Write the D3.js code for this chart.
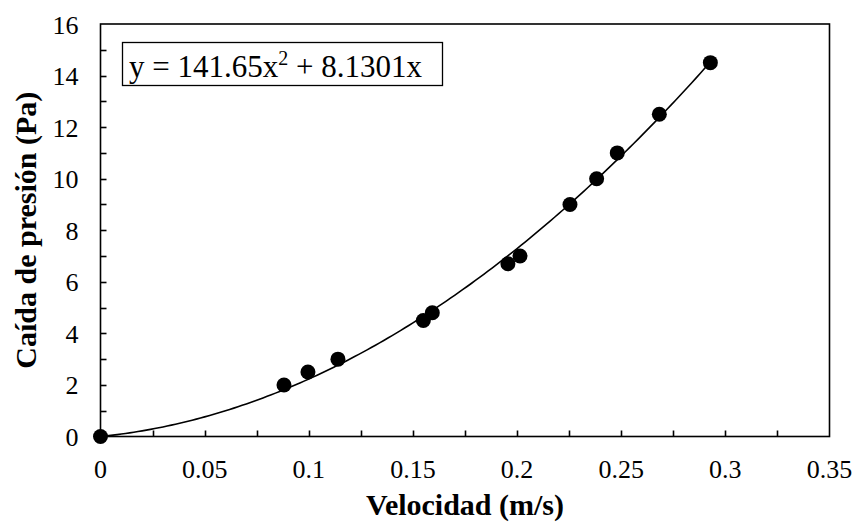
<!DOCTYPE html>
<html>
<head>
<meta charset="utf-8">
<script src="https://cdn.jsdelivr.net/npm/d3@7"></script>
</head>
<body style="margin:0">
<div id="chart"></div>
<script>
  // measured points (velocity m/s, pressure drop Pa)
  const velocity = [0, 0.0881, 0.0996, 0.114, 0.155, 0.1593, 0.1956, 0.2014, 0.2254, 0.2382, 0.2481, 0.2683, 0.2928];
  const pressure = [0, 2.0, 2.5, 3.0, 4.5, 4.8, 6.7, 7.0, 9.0, 10.0, 11.0, 12.5, 14.5];
  const xTicks = [0, 0.05, 0.1, 0.15, 0.2, 0.25, 0.3, 0.35];
  const yTicks = [0, 2, 4, 6, 8, 10, 12, 14, 16];
  // trendline coefficients (y = a x^2 + b x)
  const coefA = 141.65;
  const coefB = 8.1301;

  const width = 854;
  const height = 525;
  const margin = { top: 24, right: 24.5, bottom: 88.5, left: 100.5 };
  const serif = "\"Liberation Serif\", \"Times New Roman\", Tinos, serif";

  const svg = d3.select("#chart")
    .append("svg")
    .attr("width", width)
    .attr("height", height);

  const x = d3.scaleLinear().domain([0, 0.35]).range([margin.left, width - margin.right]);
  const y = d3.scaleLinear().domain([0, 16]).range([height - margin.bottom, margin.top]);

  // minor ticks inside the box
  const xMinor = d3.range(1, 14).map(i => i * 0.025);
  const yMinor = d3.range(1, 16);

  svg.append("g")
    .selectAll("line")
    .data(xMinor)
    .join("line")
    .attr("x1", d => Math.round(x(d)) + 0.5)
    .attr("x2", d => Math.round(x(d)) + 0.5)
    .attr("y1", y(0))
    .attr("y2", y(0) - 6)
    .attr("stroke", "#000")
    .attr("stroke-width", 1.6);

  svg.append("g")
    .selectAll("line")
    .data(yMinor)
    .join("line")
    .attr("x1", x(0))
    .attr("x2", x(0) + 6)
    .attr("y1", d => Math.round(y(d)) + 0.5)
    .attr("y2", d => Math.round(y(d)) + 0.5)
    .attr("stroke", "#000")
    .attr("stroke-width", 1.6);

  // box
  svg.append("rect")
    .attr("x", x(0))
    .attr("y", y(16))
    .attr("width", x(0.35) - x(0))
    .attr("height", y(0) - y(16))
    .attr("fill", "none")
    .attr("stroke", "#000")
    .attr("stroke-width", 1.6);

  // tick labels
  svg.append("g")
    .selectAll("text")
    .data(xTicks)
    .join("text")
    .attr("x", d => x(d))
    .attr("y", y(0) + 41)
    .attr("text-anchor", "middle")
    .attr("font-family", serif)
    .attr("font-size", 26)
    .text(d => d);

  svg.append("g")
    .selectAll("text")
    .data(yTicks)
    .join("text")
    .attr("x", x(0) - 22)
    .attr("y", d => y(d) + 9.5)
    .attr("text-anchor", "end")
    .attr("font-family", serif)
    .attr("font-size", 26)
    .text(d => d);

  // trendline
  const fitX = d3.range(0, d3.max(velocity) + 0.0001, 0.002);
  const line = d3.line()
    .x(d => x(d))
    .y(d => y(coefA * d * d + coefB * d));

  svg.append("path")
    .datum(fitX)
    .attr("d", line)
    .attr("fill", "none")
    .attr("stroke", "#000")
    .attr("stroke-width", 1.6);

  // points
  svg.append("g")
    .selectAll("circle")
    .data(velocity)
    .join("circle")
    .attr("cx", d => x(d))
    .attr("cy", (d, i) => y(pressure[i]))
    .attr("r", 7.5)
    .attr("fill", "#000");

  // equation label
  svg.append("rect")
    .attr("x", 122.5)
    .attr("y", 42.5)
    .attr("width", 320)
    .attr("height", 43)
    .attr("fill", "#fff")
    .attr("stroke", "#000")
    .attr("stroke-width", 1.3);

  const eq = svg.append("text")
    .attr("x", 129)
    .attr("y", 77)
    .attr("font-family", serif)
    .attr("font-size", 31);
  eq.append("tspan").text(`y = ${coefA}x`);
  eq.append("tspan").attr("dy", -12).attr("font-size", 20).text("2");
  eq.append("tspan").attr("dy", 12).text(` + ${coefB}x`);

  // axis titles
  svg.append("text")
    .attr("x", (x(0) + x(0.35)) / 2)
    .attr("y", 515)
    .attr("text-anchor", "middle")
    .attr("font-family", serif)
    .attr("font-size", 30)
    .attr("font-weight", "bold")
    .text("Velocidad (m/s)");

  svg.append("text")
    .attr("transform", `translate(36,${(y(0) + y(16)) / 2}) rotate(-90)`)
    .attr("text-anchor", "middle")
    .attr("font-family", serif)
    .attr("font-size", 30)
    .attr("font-weight", "bold")
    .text("Caída de presión (Pa)");
</script>
</body>
</html>
